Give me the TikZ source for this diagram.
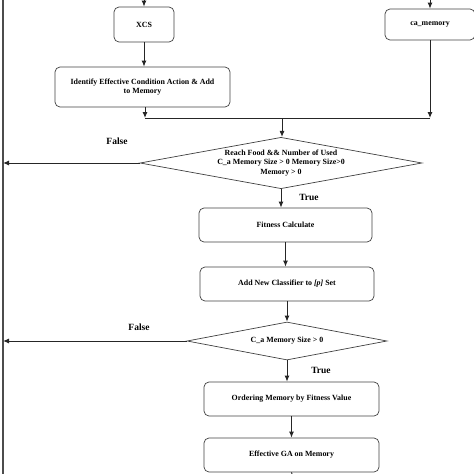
\documentclass[tikz,border=0pt]{standalone}
\usepackage{fontspec}
\setmainfont{Liberation Serif}
\usetikzlibrary{arrows.meta,shapes.geometric}
\begin{document}
\begin{tikzpicture}[x=1pt,y=-1pt,
  box/.style={draw=black!75, line width=0.7pt, rounded corners=5pt, align=center,
    font=\fontsize{7.9}{9.3}\selectfont\bfseries, inner sep=2pt},
  decision/.style={draw=black!75, line width=0.7pt, diamond, aspect=5, inner sep=0pt,
    align=center, font=\fontsize{7.9}{9.3}\selectfont\bfseries},
  flow/.style={-{Latex[length=6pt,width=5pt]}, line width=1pt, black!85},
  answer/.style={font=\fontsize{9.5}{11}\selectfont\bfseries}]
  \useasboundingbox (0,0) rectangle (474,474);

  % Top row: the two inputs
  \node[box, minimum width=60pt, minimum height=35pt] (xcs) at (144,24.5) {XCS};
  \node[box, minimum width=90pt, minimum height=31pt] (camem) at (430,24.5) {ca\_memory};
  \node[box, minimum width=175pt, minimum height=40pt] (identify) at (142.5,87)
    {Identify Effective Condition Action \& Add\\to Memory};

  % First decision
  \node[decision, minimum width=282pt, minimum height=48pt] (reach) at (281,163)
    {Reach Food \&\& Number of Used\\C\_a Memory Size > 0 Memory Size>0\\Memory > 0};

  % Middle steps
  \node[box, minimum width=173pt, minimum height=34pt] (fitness) at (285.5,225) {Fitness Calculate};
  \node[box, minimum width=174pt, minimum height=34pt] (addnew) at (287,284)
    {Add New Classifier to \textit{[p]} Set};

  % Second decision
  \node[decision, minimum width=200pt, minimum height=38pt] (casize) at (287,341) {C\_a Memory Size > 0};

  % Last steps
  \node[box, minimum width=175pt, minimum height=34pt] (ordering) at (291.5,399)
    {Ordering Memory by Fitness Value};
  \node[box, minimum width=175pt, minimum height=34pt] (effga) at (291.5,455) {Effective GA on Memory};

  % Branch labels
  \node[answer] (false1) at (117,141) {False};
  \node[answer] (true1) at (309,197) {True};
  \node[answer] (false2) at (139,327) {False};
  \node[answer] (true2) at (321,370) {True};

  % Free ends and the merge line
  \coordinate (xcsin) at (144,0);
  \coordinate (camemin) at (430,0);
  \coordinate (mergeL) at (145,118);
  \coordinate (mergeR) at (430,118);
  \coordinate (mergeC) at (282,118);
  \coordinate (loopTop) at (3,0);
  \coordinate (loopBot) at (3,474);
  \coordinate (out) at (292,474);

  % Connectors
  \draw[flow] (xcsin) -- (xcs.north);
  \draw[flow] (camemin) -- (camem.north);
  \draw[flow] (xcs.south) -- (xcs.south |- identify.north);
  \draw[flow] (mergeL |- identify.south) -- (mergeL);
  \draw[flow] (camem.south) -- (mergeR);
  \draw[line width=1pt, black!85] (mergeL) -- (mergeR);
  \draw[flow] (mergeC) -- (mergeC |- reach.north);
  \draw[flow] (reach.south) -- (reach.south |- fitness.north);
  \draw[flow] (fitness.south) -- (fitness.south |- addnew.north);
  \draw[flow] (addnew.south) -- (addnew.south |- casize.north);
  \draw[flow] (casize.south) -- (casize.south |- ordering.north);
  \draw[flow] (ordering.south) -- (ordering.south |- effga.north);
  \draw[line width=1pt, black!85] (effga.south) -- (out);

  % False branches back to the left line
  \draw[line width=1.2pt, black!70] (loopTop) -- (loopBot);
  \draw[flow] (reach.west) -- (reach.west -| loopTop);
  \draw[flow] (casize.west) -- (casize.west -| loopTop);
\end{tikzpicture}
\end{document}
